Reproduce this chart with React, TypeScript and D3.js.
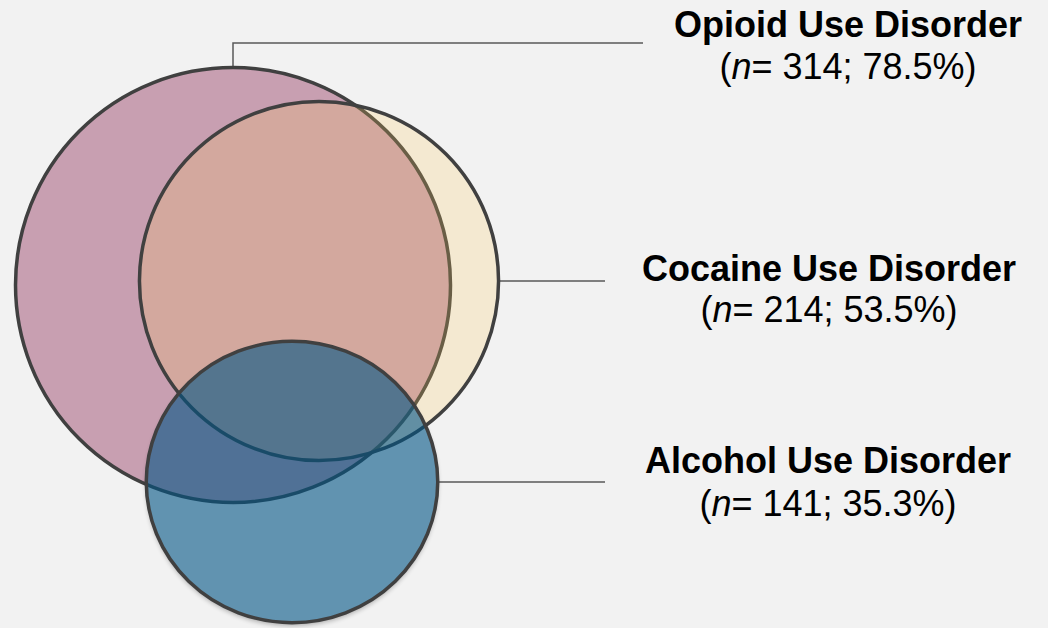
import React from "react";
import * as d3 from "d3";

const categories = ["Opioid Use Disorder", "Cocaine Use Disorder", "Alcohol Use Disorder"];
const counts = [314, 214, 141];
const percents = ["78.5%", "53.5%", "35.3%"];

const W = 1048;
const H = 628;

// layout (positions of each set)
const centers = [
  { cx: 233, cy: 285, squash: 1 },
  { cx: 319, cy: 281, squash: 1 },
  { cx: 292, cy: 482, squash: 0.965 },
];
const fills = [
  { fill: "rgb(200,159,177)", op: 1 },
  { fill: "rgb(250,200,90)", op: 0.22 },
  { fill: "rgb(0,84,132)", op: 0.6 },
];
const labelPos = [
  { x: 848, y1: 37, y2: 79 },
  { x: 829, y1: 281, y2: 322 },
  { x: 828, y1: 473, y2: 516 },
];

export default function App() {
  const r = d3.scaleSqrt().domain([0, d3.max(counts) as number]).range([0, 217.5]);
  const sets = categories.map((c, i) => ({
    name: c,
    n: counts[i],
    pct: percents[i],
    ...centers[i],
    rx: r(counts[i]),
    ry: r(counts[i]) * centers[i].squash,
    ...fills[i],
  }));
  const [op, co, al] = sets;
  const line = d3.line<[number, number]>();
  const leaders: [number, number][][] = [
    [
      [op.cx, op.cy - op.ry],
      [op.cx, 43],
      [643, 43],
    ],
    [
      [co.cx + co.rx, co.cy],
      [605, co.cy],
    ],
    [
      [al.cx + al.rx, al.cy],
      [605, al.cy],
    ],
  ];
  const font = "'Liberation Sans', Arial, Helvetica, sans-serif";
  const sw = 3.5;
  return (
    <svg
      width={W}
      height={H}
      style={{ position: "absolute", left: 0, top: 0 }}
      xmlns="http://www.w3.org/2000/svg"
    >
      <defs>
        <filter id="blur" x="-20%" y="-20%" width="140%" height="140%">
          <feGaussianBlur stdDeviation="2.5" />
        </filter>
        <mask id="outsideAl">
          <rect x={0} y={0} width={W} height={H} fill="white" />
          <ellipse cx={al.cx} cy={al.cy} rx={al.rx} ry={al.ry} fill="black" />
        </mask>
      </defs>
      <rect x={0} y={0} width={W} height={H} fill="#f2f2f2" />
      {leaders.map((pts, i) => (
        <path key={i} d={line(pts) || ""} fill="none" stroke="#595959" strokeWidth={1.5} />
      ))}
      <ellipse
        cx={op.cx}
        cy={op.cy}
        rx={op.rx}
        ry={op.ry}
        fill={op.fill}
        stroke="#404040"
        strokeWidth={sw}
      />
      <ellipse
        cx={co.cx}
        cy={co.cy}
        rx={co.rx}
        ry={co.ry}
        fill={co.fill}
        fillOpacity={co.op}
        stroke="#404040"
        strokeWidth={sw}
      />
      <g mask="url(#outsideAl)">
        <ellipse
          cx={al.cx}
          cy={al.cy + 3}
          rx={al.rx}
          ry={al.ry}
          fill="#000"
          opacity={0.3}
          filter="url(#blur)"
        />
      </g>
      <ellipse
        cx={al.cx}
        cy={al.cy}
        rx={al.rx}
        ry={al.ry}
        fill={al.fill}
        fillOpacity={al.op}
        stroke="#404040"
        strokeWidth={sw}
      />
      {sets.map((s, i) => (
        <g key={s.name} fontFamily={font} fill="#000" textAnchor="middle">
          <text x={labelPos[i].x} y={labelPos[i].y1} fontSize={36} fontWeight="bold">
            {s.name}
          </text>
          <text x={labelPos[i].x} y={labelPos[i].y2} fontSize={36}>
            (<tspan fontStyle="italic">n</tspan>= {s.n}; {s.pct})
          </text>
        </g>
      ))}
    </svg>
  );
}
